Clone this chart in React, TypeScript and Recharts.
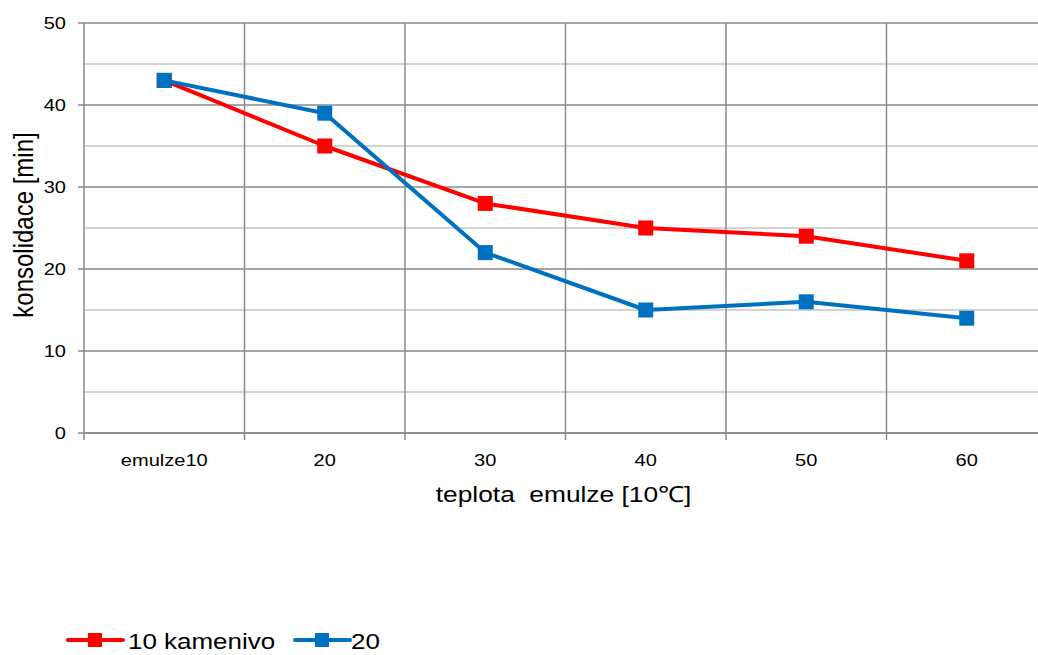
import React from 'react';
import { ComposedChart, Line, XAxis, YAxis, CartesianGrid, Legend } from 'recharts';

const categories = ['emulze10', '20', '30', '40', '50', '60'];
const kamenivo10 = [43, 35, 28, 25, 24, 21];
const series20 = [43, 39, 22, 15, 16, 14];
const yTicks = [0, 10, 20, 30, 40, 50];
const yMinorTicks = [5, 15, 25, 35, 45];
const seriesNames = ['10 kamenivo', '20'];
const seriesColors = ['#FF0000', '#0070C0'];
const xTitle = 'teplota  emulze [10\u2103]';
const yTitle = 'konsolidace [min]';

const data = categories.map((c, i) => ({ cat: c, a: kamenivo10[i], b: series20[i] }));

const FONT = '"Liberation Sans", Arial, sans-serif';
const SX = 1.18;
const CHART_W = 1060;
const CHART_H = 655;
const M = { top: 23, right: 13, left: 0, bottom: 192 };
const Y_AXIS_W = 84;
const X_AXIS_H = 30;
const PLOT_W = CHART_W - M.right - M.left - Y_AXIS_W;
const HALF_BAND = PLOT_W / categories.length / 2;
const Y_MAX = yTicks[yTicks.length - 1];
const MAJOR = '#8a8a8a';
const MINOR = '#c4c4c4';

type STextProps = {
  x: number;
  y: number;
  size: number;
  anchor?: 'start' | 'middle' | 'end';
  rotate?: boolean;
  baseline?: string;
  children: React.ReactNode;
};

function SText({ x, y, size, anchor = 'start', rotate = false, baseline, children }: STextProps) {
  const t = `translate(${x},${y}) scale(${SX},1)` + (rotate ? ' rotate(-90)' : '');
  return (
    <text
      transform={t}
      x={0}
      y={0}
      fontFamily={FONT}
      fontSize={size}
      textAnchor={anchor}
      dominantBaseline={baseline as any}
      fill="#000"
      style={{ whiteSpace: 'pre' }}
    >
      {children}
    </text>
  );
}

const YTick = (props: any) => {
  const { x, y, payload } = props;
  return (
    <SText x={x} y={y} size={17} anchor="end" baseline="central">
      {payload.value}
    </SText>
  );
};

const XTick = (props: any) => {
  const { x, y, payload, index } = props;
  const bx = x - HALF_BAND;
  return (
    <g>
      <line x1={bx} x2={bx} y1={y} y2={y + 7} stroke={MAJOR} strokeWidth={1.5} />
      {index === categories.length - 1 ? (
        <line x1={x + HALF_BAND} x2={x + HALF_BAND} y1={y} y2={y + 7} stroke={MAJOR} strokeWidth={1.5} />
      ) : null}
      <SText x={x} y={y + 33} size={17} anchor="middle">
        {payload.value}
      </SText>
    </g>
  );
};

const squareDot = (color: string) => (props: any) => {
  const { cx, cy, index } = props;
  if (cx == null || cy == null) return <g key={`d${index}`} />;
  return <rect key={`d${index}`} x={cx - 7.5} y={cy - 7.5} width={15} height={15} fill={color} />;
};

const XTitle = (props: any) => {
  const vb = props.viewBox || { x: Y_AXIS_W, y: 433, width: PLOT_W };
  return (
    <SText x={vb.x + vb.width / 2 - 2} y={vb.y + 69} size={22.3} anchor="middle">
      {xTitle}
    </SText>
  );
};

const YTitle = (props: any) => {
  const vb = props.viewBox || { x: 0, y: M.top, height: 410 };
  return (
    <SText x={33} y={vb.y + vb.height / 2 - 3} size={24} anchor="middle" rotate>
      {yTitle}
    </SText>
  );
};

const LegendContent = () => {
  const items = [
    { lx: 8, tx: 68 },
    { lx: 235, tx: 291 },
  ];
  return (
    <svg width={380} height={36} style={{ display: 'block' }}>
      {seriesNames.map((name, i) => (
        <g key={name}>
          <line
            x1={items[i].lx}
            x2={items[i].lx + 55}
            y1={20}
            y2={20}
            stroke={seriesColors[i]}
            strokeWidth={4}
            strokeLinecap="round"
          />
          <rect x={items[i].lx + 20} y={13} width={14} height={14} fill={seriesColors[i]} />
          <SText x={items[i].tx} y={29} size={22}>
            {name}
          </SText>
        </g>
      ))}
    </svg>
  );
};

export default function App() {
  return (
    <div
      style={{
        position: 'absolute',
        left: 0,
        top: 0,
        width: 1038,
        height: 655,
        overflow: 'hidden',
        background: '#fff',
      }}
    >
      <ComposedChart width={CHART_W} height={CHART_H} data={data} margin={M}>
        <CartesianGrid
          vertical={false}
          horizontal
          stroke={MINOR}
          strokeWidth={1.5}
          horizontalCoordinatesGenerator={({ offset }: any) =>
            yMinorTicks.map((v) => offset.top + offset.height * (1 - v / Y_MAX))
          }
        />
        <CartesianGrid
          stroke={MAJOR}
          strokeWidth={1.5}
          verticalCoordinatesGenerator={({ offset }: any) =>
            categories.map((_, i) => offset.left + ((i + 1) * offset.width) / categories.length)
          }
        />
        <XAxis
          dataKey="cat"
          scale="band"
          height={X_AXIS_H}
          axisLine={{ stroke: MAJOR, strokeWidth: 1.5 }}
          tickLine={false}
          tickSize={0}
          tickMargin={0}
          tick={<XTick />}
          interval={0}
          label={{ content: <XTitle /> }}
        />
        <YAxis
          width={Y_AXIS_W}
          domain={[0, Y_MAX]}
          ticks={yTicks}
          axisLine={{ stroke: MAJOR, strokeWidth: 1.5 }}
          tickLine={{ stroke: MAJOR, strokeWidth: 1.5 }}
          tickSize={6}
          tickMargin={12}
          tick={<YTick />}
          label={{ content: <YTitle /> }}
        />
        <Legend
          layout="horizontal"
          verticalAlign="middle"
          align="center"
          content={<LegendContent />}
          wrapperStyle={{ top: 620, left: 60, width: 380, height: 36 }}
        />
        <Line
          type="linear"
          dataKey="a"
          name={seriesNames[0]}
          stroke={seriesColors[0]}
          strokeWidth={4}
          strokeLinejoin="round"
          dot={squareDot(seriesColors[0])}
          activeDot={false}
          isAnimationActive={false}
        />
        <Line
          type="linear"
          dataKey="b"
          name={seriesNames[1]}
          stroke={seriesColors[1]}
          strokeWidth={4}
          strokeLinejoin="round"
          dot={squareDot(seriesColors[1])}
          activeDot={false}
          isAnimationActive={false}
        />
      </ComposedChart>
    </div>
  );
}
